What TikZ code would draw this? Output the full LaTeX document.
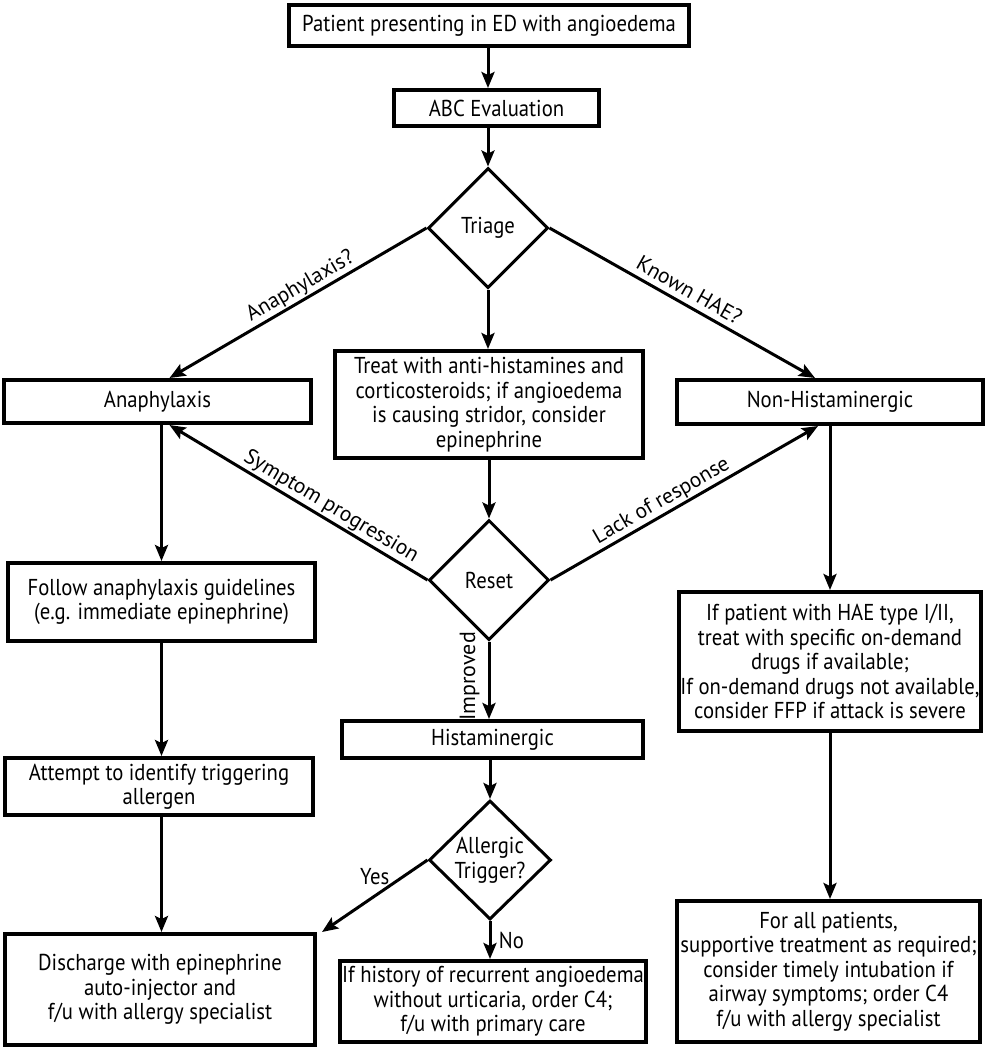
\documentclass[tikz,border=0pt]{standalone}
\usepackage{fontspec}
\setmainfont{PT Sans}[FakeStretch=0.9]
\newfontfamily\labelfont{PT Sans}
\usepackage{tikz}
\usetikzlibrary{positioning,arrows.meta,shapes.geometric,calc}

\begin{document}
\begin{tikzpicture}[x=1pt, y=-1pt,
    font=\fontsize{23}{24.5}\selectfont,
    box/.style 2 args={draw, line width=4pt, align=center, inner sep=0pt,
      minimum width=#1pt, minimum height=#2pt},
    choice/.style={draw, diamond, aspect=1, line width=3pt, align=center,
      inner sep=0pt, minimum width=120pt, minimum height=120pt},
    arr/.style={line width=3pt, -{Stealth[length=16pt,width=13pt,inset=3pt]}},
    lab/.style={sloped, above, inner sep=1.5pt, font=\labelfont\fontsize{21.5}{24}\selectfont}]
  \useasboundingbox (0,0) rectangle (987,1050);

  % main column
  \node[box={400}{41}] (patient) at (489,25.5) {Patient presenting in ED with angioedema};
  \node[box={205}{36}] (abc) at (496.5,108) {ABC Evaluation};
  \node[choice] (triage) at (488,228) {Triage};
  \node[box={308}{107}] (treat) at (489,404.5)
    {Treat with anti-histamines and\\corticosteroids; if angioedema\\is causing stridor, consider\\epinephrine};
  \node[choice] (reset) at (489,580) {Reset};
  \node[box={301}{37}] (hist) at (492.5,739.5) {Histaminergic};
  \node[choice, minimum width=122pt, minimum height=119pt] (allergic) at (490,860) {Allergic\\Trigger?};
  \node[box={306}{81}] (history) at (493,1001.5)
    {If history of recurrent angioedema\\without urticaria, order C4;\\f/u with primary care};

  % left column
  \node[box={307}{43}] (anaph) at (157.5,401.5) {Anaphylaxis};
  \node[box={307}{78}] (follow) at (161.5,602)
    {Follow anaphylaxis guidelines\\(e.g. immediate epinephrine)};
  \node[box={308}{57}] (attempt) at (159,786.5) {Attempt to identify triggering\\allergen};
  \node[box={310}{111}] (discharge) at (160,989.5)
    {Discharge with epinephrine\\auto-injector and\\f/u with allergy specialist};

  % right column
  \node[box={306}{44}] (nonhist) at (830,402) {Non-Histaminergic};
  \node[box={302}{139}] (hae) at (830,661.5)
    {If patient with HAE type I/II,\\treat with specific on-demand\\drugs if available;\\If on-demand drugs not available,\\consider FFP if attack is severe};
  \node[box={303}{141}] (forall) at (828.5,971.5)
    {For all patients,\\supportive treatment as required;\\consider timely intubation if\\airway symptoms; order C4\\f/u with allergy specialist};

  % connectors
  \draw[arr] (patient.south -| triage.north) -- (abc.north -| triage.north);
  \draw[arr] (abc.south -| triage.north) -- (triage.north);
  \draw[arr] (triage.south) -- (triage.south |- treat.north);
  \draw[arr] (triage.west) -- ([xshift=12pt]anaph.north)
    node[lab, pos=0.465] {Anaphylaxis?};
  \draw[arr] (triage.east) -- ([xshift=-15pt]nonhist.north)
    node[lab, pos=0.5, above=4pt] {Known HAE?};
  \draw[arr] (treat.south -| reset.north) -- (reset.north);
  \draw[arr] (reset.west) -- ([xshift=12pt]anaph.south)
    node[lab, pos=0.4] {Symptom progression};
  \draw[arr] (reset.east) -- ([xshift=-12pt]nonhist.south)
    node[lab, pos=0.44] {Lack of response};
  \draw[arr] (reset.south) -- (reset.south |- hist.north)
    node[pos=0.45, anchor=south, rotate=90, inner sep=8pt,
      font=\labelfont\fontsize{22}{24}\selectfont] {Improved};
  \draw[arr] (hist.south -| allergic.north) -- (allergic.north);
  \draw[arr] (allergic.west) -- ([xshift=5pt]discharge.north east)
    node[midway, above=6pt] {Yes};
  \draw[arr] (allergic.south) -- (allergic.south |- history.north)
    node[midway, right=4pt] {No};
  \draw[arr] (anaph.south -| follow.north) -- (follow.north);
  \draw[arr] (follow.south) -- (follow.south |- attempt.north);
  \draw[arr] (attempt.south -| follow.south) -- (follow.south |- discharge.north);
  \draw[arr] (nonhist.south -| hae.north) -- (hae.north);
  \draw[arr] (hae.south) -- (hae.south |- forall.north);
\end{tikzpicture}
\end{document}
